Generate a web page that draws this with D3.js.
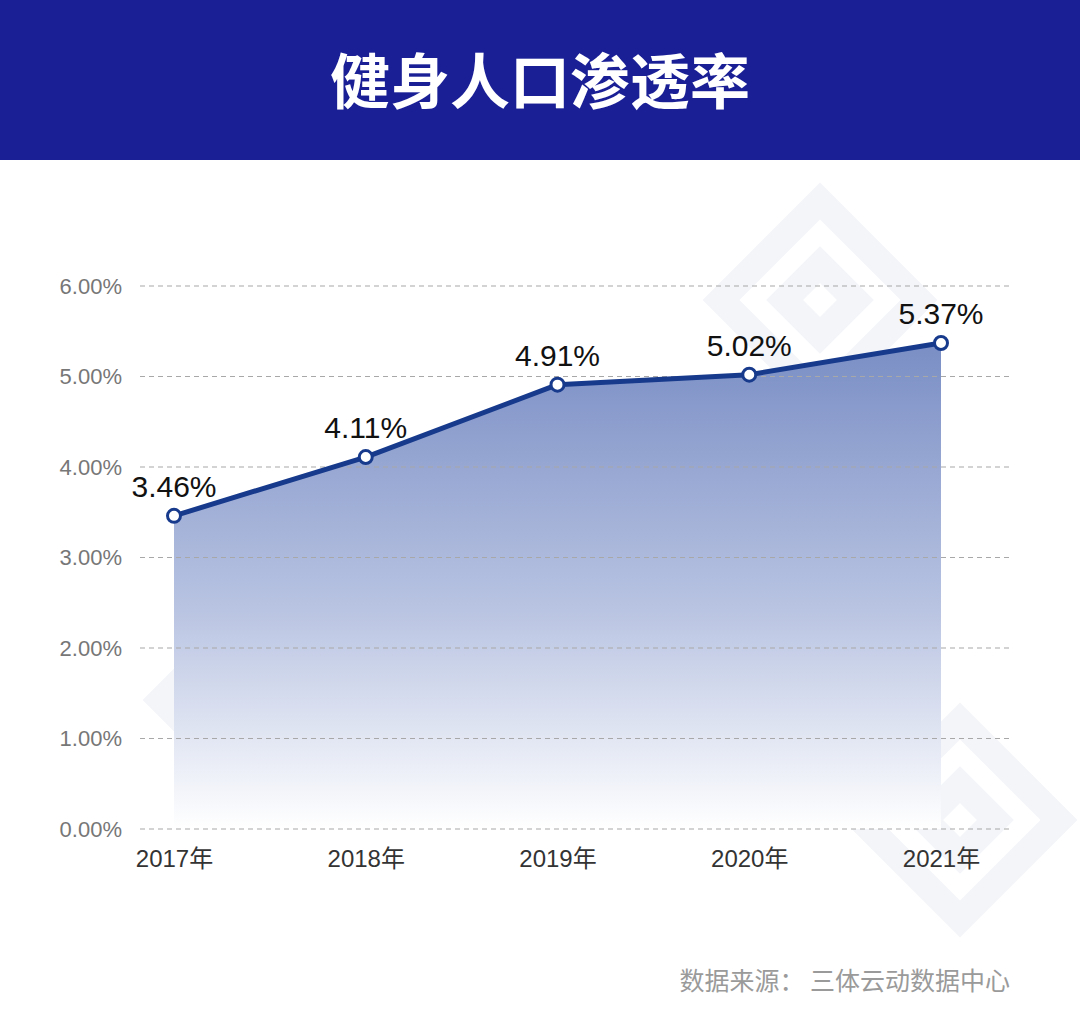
<!DOCTYPE html>
<html><head><meta charset="utf-8">
<script src="https://cdn.jsdelivr.net/npm/d3@7/dist/d3.min.js"></script>
<style>body{margin:0;background:#fff}svg{display:block}</style>
</head><body>
<svg id="c" width="1080" height="1028"></svg>
<script>
const categories = ["2017年","2018年","2019年","2020年","2021年"];
const values = [3.46, 4.11, 4.91, 5.02, 5.37];
const yTicks = [0,1,2,3,4,5,6];
const title = "健身人口渗透率";
const source = "数据来源：  三体云动数据中心";

const svg = d3.select("#c");
const W = 1080, H = 1028;
const cjk = "'Noto Sans CJK SC','Noto Sans',sans-serif";
const num = "'Liberation Sans','Noto Sans CJK SC',sans-serif";

// faint watermark shapes (decorative)
const wm = svg.append("g").attr("fill","none").attr("stroke","#f3f5f9").attr("stroke-width",26);
[[260,700],[960,820],[820,300]].forEach(([cx,cy])=>{
  const g = wm.append("g").attr("transform",`translate(${cx},${cy}) rotate(45)`);
  g.append("rect").attr("x",-70).attr("y",-70).attr("width",140).attr("height",140);
  g.append("rect").attr("x",-25).attr("y",-25).attr("width",50).attr("height",50);
});

svg.append("rect").attr("width",W).attr("height",160).attr("fill","#1a1f96");
svg.append("text").attr("x",W/2).attr("y",104).attr("text-anchor","middle")
  .attr("fill","#fff").attr("font-family",cjk).attr("font-weight",700)
  .attr("font-size",60).text(title);

const x = d3.scalePoint().domain(categories).range([174,941]);
const y = d3.scaleLinear().domain([0,6]).range([829,286]);

const defs = svg.append("defs");
const grad = defs.append("linearGradient").attr("id","ag")
  .attr("gradientUnits","userSpaceOnUse").attr("x1",0).attr("x2",0)
  .attr("y1",y(5.37)).attr("y2",y(0));
grad.append("stop").attr("offset","0%").attr("stop-color","#7a8ec5");
grad.append("stop").attr("offset","55%").attr("stop-color","#b9c4e2");
grad.append("stop").attr("offset","100%").attr("stop-color","#ffffff");

const data = categories.map((c,i)=>({c,v:values[i]}));
svg.append("path").datum(data).attr("fill","url(#ag)")
  .attr("d", d3.area().x(d=>x(d.c)).y0(y(0)).y1(d=>y(d.v)));

yTicks.forEach(t=>{
  svg.append("line").attr("x1",140).attr("x2",1012).attr("y1",y(t)).attr("y2",y(t))
    .attr("stroke","#a8a8a8").attr("stroke-width",1.2).attr("stroke-dasharray","5,4");
});
const yAxis = d3.axisLeft(y).tickValues(yTicks).tickFormat(d=>d.toFixed(2)+"%").tickSize(0).tickPadding(0);
const ya = svg.append("g").attr("transform","translate(122,0)").call(yAxis);
ya.select(".domain").remove();
ya.selectAll("text").attr("font-family",num).attr("font-size",22).attr("fill","#777");

const xAxis = d3.axisBottom(x).tickSize(0).tickPadding(0);
const xa = svg.append("g").attr("transform","translate(0,850)").call(xAxis);
xa.select(".domain").remove();
xa.selectAll("text").attr("font-family",num).attr("font-size",24).attr("fill","#333").attr("dy","0.71em");

svg.append("path").datum(data).attr("fill","none").attr("stroke","#173a8c").attr("stroke-width",5)
  .attr("stroke-linejoin","round")
  .attr("d", d3.line().x(d=>x(d.c)).y(d=>y(d.v)));

svg.selectAll("circle.p").data(data).join("circle").attr("class","p")
  .attr("cx",d=>x(d.c)).attr("cy",d=>y(d.v)).attr("r",6.5)
  .attr("fill","#fff").attr("stroke","#173a8c").attr("stroke-width",3);

svg.selectAll("text.lbl").data(data).join("text").attr("class","lbl")
  .attr("x",d=>x(d.c)).attr("y",d=>y(d.v)-19).attr("text-anchor","middle")
  .attr("font-family",num).attr("font-size",30).attr("fill","#111")
  .text(d=>d.v.toFixed(2)+"%");

svg.append("text").attr("x",1010).attr("y",990).attr("text-anchor","end")
  .attr("font-family",cjk).attr("font-size",25).attr("fill","#9a9a9a").text(source);
</script>
</body></html>
